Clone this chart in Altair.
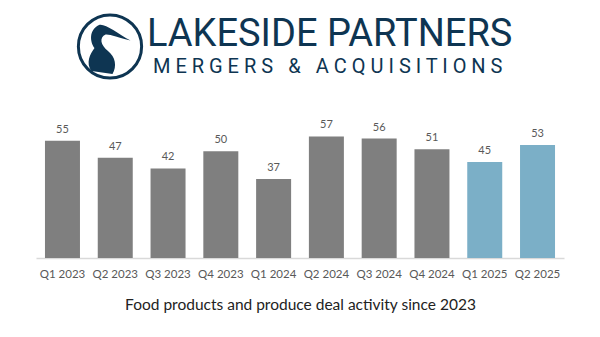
import altair as alt
import pandas as pd

quarters = ["Q1 2023", "Q2 2023", "Q3 2023", "Q4 2023", "Q1 2024",
            "Q2 2024", "Q3 2024", "Q4 2024", "Q1 2025", "Q2 2025"]
deals = [55, 47, 42, 50, 37, 57, 56, 51, 45, 53]
highlight = [False] * 8 + [True] * 2

brand = "LAKESIDE PARTNERS"
tagline = "M E R G E R S \u2002&\u2002 A C Q U I S I T I O N S"
caption = "Food products and produce deal activity since 2023"

NAVY = "#0e3552"
GRAY = "#7f7f7f"
BLUE = "#7bafc7"
LABEL = "#595959"

df = pd.DataFrame({"quarter": quarters, "deals": deals, "recent": highlight})

x = alt.X("quarter:N", sort=quarters,
          scale=alt.Scale(paddingInner=0.337, paddingOuter=0.17),
          axis=alt.Axis(title=caption, labelAngle=0, ticks=False, grid=False,
                        domainColor="#d9d9d9", domainWidth=1.5,
                        labelColor=LABEL, labelFontSize=11.5, labelFont="Lato",
                        labelPadding=10, titleFont="Lato", titleFontSize=15.5,
                        titleFontWeight="normal", titleColor="#222222",
                        titlePadding=18))
y = alt.Y("deals:Q", scale=alt.Scale(domain=[0, 60], nice=False), axis=None)

bars = alt.Chart(df).mark_bar().encode(
    x=x, y=y,
    color=alt.Color("recent:N", scale=alt.Scale(domain=[False, True], range=[GRAY, BLUE]),
                    legend=None),
)
labels = alt.Chart(df).mark_text(baseline="bottom", dy=-6, fontSize=11, font="Lato",
                                 color=LABEL).encode(x=x, y=y, text="deals:Q")

HERON = ("M -0.3 -0.72 C -0.1 -0.78 0.3 -0.45 0.75 -0.2 C 0.35 -0.3 0.05 -0.42 -0.08 -0.4 "
         "C -0.3 -0.3 -0.25 -0.05 0.0 0.15 C 0.25 0.35 0.3 0.65 0.15 0.92 L -0.55 0.82 "
         "C -0.75 0.55 -0.6 0.25 -0.45 0.05 C -0.6 -0.15 -0.65 -0.55 -0.3 -0.72 Z")

logo_df = pd.DataFrame({"k": [0]})
ring = alt.Chart(logo_df).mark_point(shape="circle", filled=False, color=NAVY,
                                     strokeWidth=3, size=4000, opacity=1).encode(
    x=alt.value(74), y=alt.value(-83.5))
heron = alt.Chart(logo_df).mark_point(shape=HERON, filled=True, color=NAVY,
                                      size=3600, opacity=1).encode(
    x=alt.value(72), y=alt.value(-83.5))
brand_t = alt.Chart(logo_df).mark_text(align="left", baseline="alphabetic", font="Roboto",
                                       fontSize=38, color=NAVY).encode(
    x=alt.value(111), y=alt.value(-84), text=alt.value(brand))
tag_t = alt.Chart(logo_df).mark_text(align="left", baseline="alphabetic", font="Roboto",
                                     fontSize=20, color=NAVY).encode(
    x=alt.value(117), y=alt.value(-57), text=alt.value(tagline))

chart = alt.layer(bars, labels, ring, heron, brand_t, tag_t).properties(
    width=528, height=128,
    autosize=alt.AutoSizeParams(type="none"),
    padding={"left": 36, "top": 130, "right": 36, "bottom": 79},
    background="white",
).configure_view(stroke=None)

chart.save("out.html", embed_options={"renderer": "svg", "actions": False})
